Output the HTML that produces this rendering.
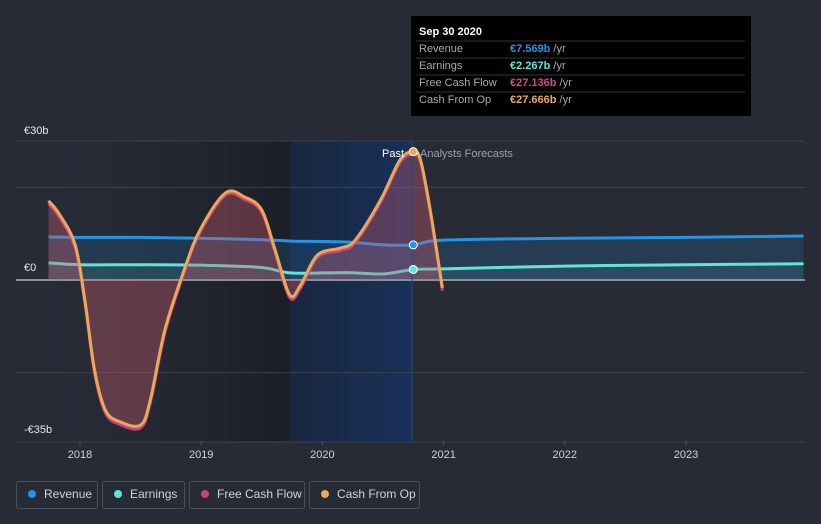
<!DOCTYPE html>
<html><head><meta charset="utf-8"><style>
body{margin:0;background:#262b36;font-family:"Liberation Sans",sans-serif;}
svg{display:block}
</style></head><body>
<svg width="821" height="524" id="c">
<defs>
<linearGradient id="pastg" x1="0" x2="1"><stop offset="0" stop-color="#262b36" stop-opacity="0"/><stop offset="1" stop-color="#1b1e25" stop-opacity="1"/></linearGradient>
<linearGradient id="blueg" x1="0" x2="1"><stop offset="0" stop-color="#1a2740"/><stop offset="1" stop-color="#173058"/></linearGradient>
</defs>
<rect x="16" y="141" width="274" height="300" fill="url(#pastg)"/>
<rect x="290" y="141" width="122" height="300" fill="url(#blueg)"/>
<g id="grid"></g>
<g id="series"></g>
<g id="axes"></g>
<text x="24" y="134" fill="#e8e8e8" font-size="11">€30b</text>
<text x="24" y="271" fill="#e8e8e8" font-size="11">€0</text>
<text x="24" y="433" fill="#e8e8e8" font-size="11">-€35b</text>
<text x="404" y="157" fill="#ffffff" font-size="11" text-anchor="end">Past</text>
<text x="420" y="157" fill="#9aa0aa" font-size="11">Analysts Forecasts</text>
<g>
<rect x="411" y="16" width="340" height="100" fill="#000"/>
<text x="419" y="35" fill="#fff" font-size="11" font-weight="bold">Sep 30 2020</text>
<line x1="416" y1="41" x2="745" y2="41" stroke="#333"/>
<text x="419" y="52" fill="#aaa" font-size="11">Revenue</text><text x="510" y="52" font-size="11" fill="#2394e6" font-weight="bold">€7.569b <tspan fill="#aaa" font-weight="normal">/yr</tspan></text>
<line x1="416" y1="58" x2="745" y2="58" stroke="#333"/>
<text x="419" y="69" fill="#aaa" font-size="11">Earnings</text><text x="510" y="69" font-size="11" fill="#5ee6d6" font-weight="bold">€2.267b <tspan fill="#aaa" font-weight="normal">/yr</tspan></text>
<line x1="416" y1="75" x2="745" y2="75" stroke="#333"/>
<text x="419" y="86" fill="#aaa" font-size="11">Free Cash Flow</text><text x="510" y="86" font-size="11" fill="#d0488a" font-weight="bold">€27.136b <tspan fill="#aaa" font-weight="normal">/yr</tspan></text>
<line x1="416" y1="92" x2="745" y2="92" stroke="#333"/>
<text x="419" y="103" fill="#aaa" font-size="11">Cash From Op</text><text x="510" y="103" font-size="11" fill="#e8a958" font-weight="bold">€27.666b <tspan fill="#aaa" font-weight="normal">/yr</tspan></text>
</g>
<g>
<g><rect x="16.5" y="481.5" width="81" height="27" rx="2" fill="none" stroke="#4a505b"/><circle cx="32" cy="494" r="4" fill="#2394e6"/><text x="44" y="498" fill="#d0d3d8" font-size="12">Revenue</text></g>
<g><rect x="102.5" y="481.5" width="82" height="27" rx="2" fill="none" stroke="#4a505b"/><circle cx="118" cy="494" r="4" fill="#5ee6d6"/><text x="130" y="498" fill="#d0d3d8" font-size="12">Earnings</text></g>
<g><rect x="189.5" y="481.5" width="115" height="27" rx="2" fill="none" stroke="#4a505b"/><circle cx="205" cy="494" r="4" fill="#c8407f"/><text x="217" y="498" fill="#d0d3d8" font-size="12">Free Cash Flow</text></g>
<g><rect x="309.5" y="481.5" width="110" height="27" rx="2" fill="none" stroke="#4a505b"/><circle cx="325" cy="494" r="4" fill="#e8a958"/><text x="337" y="498" fill="#d0d3d8" font-size="12">Cash From Op</text></g>
</g>
</svg>
<script>
const cfoDates=[2017.74,2017.83,2017.96,2018.04,2018.12,2018.21,2018.33,2018.50,2018.58,2018.70,2018.86,2018.99,2019.20,2019.36,2019.50,2019.61,2019.73,2019.82,2019.96,2020.15,2020.27,2020.48,2020.64,2020.75,2020.81,2020.89,2020.99];
const cfoValues=[17.1,14.2,7.6,-4.3,-19.4,-28.1,-30.6,-31.3,-25.9,-10.8,2.2,10.8,18.8,17.9,15.1,6.5,-3.2,-1.1,5.4,6.9,8.6,17.3,25.9,27.7,25.9,15.1,-1.7];
const fcfValues=[16.5,13.6,7.0,-4.9,-20.0,-28.7,-31.2,-31.9,-26.5,-11.4,1.7,10.3,18.3,17.4,14.6,6.0,-3.8,-1.7,4.9,6.4,8.1,16.8,25.4,27.1,25.4,14.6,-2.3];
const revDates=[2017.74,2018.0,2018.5,2019.0,2019.5,2019.75,2020.2,2020.5,2020.75,2021.0,2022.0,2023.0,2023.97];
const revValues=[9.3,9.2,9.2,9.0,8.7,8.4,8.2,7.6,7.57,8.6,9.0,9.2,9.5];
const earnValues=[3.7,3.3,3.3,3.2,2.7,1.5,1.6,1.3,2.27,2.4,3.0,3.3,3.5];
const xTicks=[2018,2019,2020,2021,2022,2023];
const yGrid=[30,20,0,-20,-35];

const NS="http://www.w3.org/2000/svg";
const X=t=>80+(t-2018)*121.2;
const Y=v=>280-v*4.633;
function mk(tag,at,parent){const e=document.createElementNS(NS,tag);for(const k in at)e.setAttribute(k,at[k]);parent.appendChild(e);return e;}
const grid=document.getElementById('grid'),ser=document.getElementById('series'),axes=document.getElementById('axes');
yGrid.forEach(v=>{const l=mk('line',{x1:16,x2:805,y1:Y(v),y2:Y(v),stroke:v===0?'#b0b3b8':'#3b404b','stroke-width':v===0?1.5:1},grid);

});
xTicks.forEach(t=>{const tx=mk('text',{x:X(t),y:458,fill:'#d0d3d8','font-size':11,'text-anchor':'middle'},axes);tx.textContent=t;


mk('line',{x1:X(t),x2:X(t),y1:441,y2:445,stroke:'#555'},axes);});
function smooth(pts){let d='M'+pts[0][0]+','+pts[0][1];for(let i=0;i<pts.length-1;i++){const p0=pts[i-1]||pts[i],p1=pts[i],p2=pts[i+1],p3=pts[i+2]||p2;
d+=' C'+(p1[0]+(p2[0]-p0[0])/6)+','+(p1[1]+(p2[1]-p0[1])/6)+' '+(p2[0]-(p3[0]-p1[0])/6)+','+(p2[1]-(p3[1]-p1[1])/6)+' '+p2[0]+','+p2[1];}return d;}
function series(dates,vals,color,fill,fop,name,cut){
 const pts=dates.map((d,i)=>[X(d),Y(vals[i])]);
 const pp=pts.filter((p,i)=>dates[i]<=cut);
 const a=mk('path',{d:smooth(pp)+' L'+pp[pp.length-1][0]+','+Y(0)+' L'+pp[0][0]+','+Y(0)+'Z',fill:fill,'fill-opacity':fop},ser);
 
 
 const l=mk('path',{d:smooth(pts),fill:'none',stroke:color,'stroke-width':3},ser);
 
 
}
series(revDates,revValues,'#2394e6','#2394e6',0.16,'revenue',2024);
series(revDates,earnValues,'#5ee6d6','#5ee6d6',0.1,'earnings',2024);
series(cfoDates,fcfValues,'#c8407f','#c8407f',0.28,'free-cash-flow',2021);
series(cfoDates,cfoValues,'#e8a958','#e8a958',0.1,'cash-from-op',2021);
mk('line',{x1:412,x2:412,y1:141,y2:441,stroke:'#1f4d80','stroke-width':1},ser);
[[7.57,'#2394e6','revenue'],[2.27,'#5ee6d6','earnings'],[27.7,'#e8a958','cash-from-op']].forEach(m=>{const c=mk('circle',{cx:X(2020.75),cy:Y(m[0]),r:4,fill:m[1],stroke:'#fff','stroke-width':1},ser);

});
</script>
</body></html>
